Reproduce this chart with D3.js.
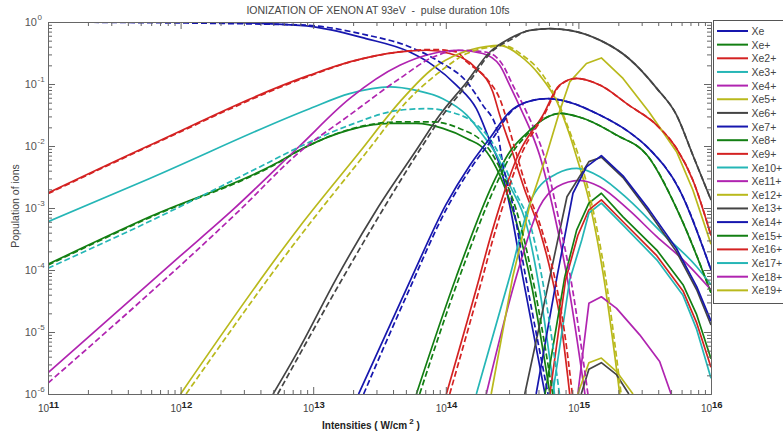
<!DOCTYPE html>
<html>
<head>
<meta charset="utf-8">
<script src="https://cdn.jsdelivr.net/npm/d3@7"></script>
<style>
  body { margin: 0; background: #fff; }
  svg { display: block; font-family: "Liberation Sans", Arial, sans-serif; }
</style>
</head>
<body>
<div id="chart"></div>
<script>
"use strict";

// axis decades
const intensityDecades = [1e11, 1e12, 1e13, 1e14, 1e15, 1e16];
const populationDecades = [1e-6, 1e-5, 1e-4, 1e-3, 1e-2, 1e-1, 1];

const ionLabels = ["Xe", "Xe+", "Xe2+", "Xe3+", "Xe4+", "Xe5+", "Xe6+", "Xe7+", "Xe8+", "Xe9+",
  "Xe10+", "Xe11+", "Xe12+", "Xe13+", "Xe14+", "Xe15+", "Xe16+", "Xe17+", "Xe18+", "Xe19+"];

// [intensity W/cm2, population], solid curves
const xe0 = [[1e11,1.0],[1.4e12,0.99],[7.9e12,0.885],[2.5e13,0.54],[5.3e13,0.33],[8e13,0.20],[1.2e14,0.096],[1.7e14,0.040],[2.14e14,0.0124],[2.55e14,4.9e-3],[3.03e14,1.12e-3],[3.8e14,7.8e-5],[5.6e14,1e-6]];
const xe1 = [[1e11,1.24e-4],[5.85e11,7.2e-4],[5.3e12,5.3e-3],[7.9e12,8.6e-3],[1.88e13,0.0182],[3.77e13,0.0231],[6e13,0.0231],[9.5e13,0.0192],[1.44e14,0.0132],[2.03e14,0.0081],[2.55e14,0.0034],[3.2e14,9.3e-4],[4.5e14,4.8e-5],[6.1e14,1e-6]];
const xe2 = [[1e11,1.75e-3],[5.85e11,0.0103],[9.4e12,0.139],[1.88e13,0.227],[4.5e13,0.33],[7.2e13,0.35],[1.07e14,0.31],[1.7e14,0.178],[2.26e14,0.075],[2.55e14,0.0315],[3.14e14,8.6e-3],[3.94e14,1.95e-3],[5.1e14,4.4e-4],[6.3e14,7.8e-5],[7.5e14,1.1e-5],[8.6e14,1e-6]];
const xe3 = [[1e11,6.0e-4],[5.85e11,3.0e-3],[9.4e12,0.040],[1.88e13,0.070],[3.77e13,0.090],[6e13,0.079],[9.5e13,0.058],[1.44e14,0.0315],[1.9e14,0.015],[2.42e14,7.1e-3],[3.03e14,2.35e-3],[4.07e14,5.3e-4],[5.1e14,4.8e-5],[6.6e14,1e-6]];
const xe4 = [[1e11,2.2e-6],[1e12,1.7e-4],[2.47e12,9.3e-4],[7.9e12,0.0100],[1.88e13,0.058],[4.5e13,0.20],[8e13,0.31],[1.21e14,0.35],[1.9e14,0.31],[2.55e14,0.20],[3.03e14,0.096],[3.78e14,0.035],[4.5e14,0.015],[5.1e14,7.1e-3],[6.6e14,7.7e-4],[8.2e14,7.8e-5],[1.12e15,1e-6]];
const xe5 = [[1e12,1e-6],[7.9e12,5.0e-4],[2.24e13,8e-3],[4.5e13,0.0515],[8e13,0.178],[1.27e14,0.31],[2.0e14,0.40],[2.55e14,0.42],[3.6e14,0.29],[5.1e14,0.139],[6.9e14,0.0515],[8.6e14,0.015],[9.6e14,7.1e-3],[1.2e15,1.35e-3],[1.55e15,7.8e-5],[2.05e15,1e-6]];
const xe6 = [[4.98e12,1e-6],[7.9e12,5.5e-6],[1.5e13,7.4e-5],[3.0e13,9.3e-4],[6.0e13,8.6e-3],[9e13,0.0315],[1.44e14,0.108],[2.14e14,0.325],[3.03e14,0.54],[4.3e14,0.735],[6.1e14,0.78],[8.6e14,0.735],[1.45e15,0.51],[2.4e15,0.258],[3.9e15,0.085],[5.5e15,0.0315],[7.3e15,7.1e-3],[1e16,1.35e-3]];
const xe7 = [[2.2e13,1e-6],[5.5e13,7.4e-5],[1e14,1.12e-3],[1.52e14,4.9e-3],[2.14e14,0.0132],[3.03e14,0.0356],[4.3e14,0.053],[5.9e14,0.058],[8.6e14,0.0506],[1.45e15,0.0315],[2.4e15,0.0169],[3.4e15,9.1e-3],[5.8e15,1.95e-3],[1e16,1e-4]];
const xe8 = [[6.0e13,1e-6],[1.2e14,7.8e-5],[2.27e14,2.5e-3],[3.03e14,8.0e-3],[3.94e14,0.015],[5.1e14,0.0245],[7.3e14,0.0335],[1.08e15,0.028],[1.94e15,0.015],[3.3e15,7.1e-3],[5.8e15,7.7e-4],[1e16,4.3e-5]];
const xe9 = [[1.01e14,1e-6],[1.8e14,7.8e-5],[2.14e14,3.05e-4],[3.6e14,8.0e-3],[5.4e14,0.0315],[7.2e14,0.096],[9.7e14,0.123],[1.45e15,0.096],[2.4e15,0.0456],[3.9e15,0.0217],[5.5e15,9.1e-3],[7.3e15,2.8e-3],[1e16,3.6e-4]];
const xe10 = [[1.7e14,1e-6],[3.03e14,7.7e-5],[4.5e14,1.5e-3],[6.9e14,3.6e-3],[9.7e14,4.35e-3],[1.45e15,3.2e-3],[2.4e15,1.35e-3],[4.3e15,3.9e-4],[7.8e15,1.13e-4],[1e16,5.8e-5]];
const xe11 = [[2.02e14,1e-6],[3.4e14,7.8e-5],[5.1e14,1.05e-3],[6.9e14,2.2e-3],[1.02e15,2.8e-3],[1.45e15,2.2e-3],[2.4e15,9.3e-4],[3.9e15,3.45e-4],[6.15e15,1.46e-4],[1e16,4.8e-5]];
const xe12 = [[2.2e14,1e-6],[3.2e14,7.8e-5],[4.3e14,1.12e-3],[5.74e14,7.1e-3],[7.2e14,0.0356],[8.6e14,0.108],[1.15e15,0.214],[1.49e15,0.263],[2.17e15,0.123],[3.4e15,0.0356],[5.5e15,8.1e-3],[7.3e15,1.95e-3],[1e16,2.6e-4]];
const xe13 = [[3.94e14,1e-6],[6.1e14,7.8e-5],[8.2e14,1.52e-3],[1.2e15,5.6e-3],[1.49e15,6.6e-3],[2.17e15,3.1e-3],[3.4e15,8.6e-4],[5.5e15,1.96e-4],[7.8e15,4.8e-5],[1e16,1.3e-5]];
const xe14 = [[4.8e14,1e-6],[6.9e14,7.8e-5],[9.1e14,1.73e-3],[1.15e15,4.6e-3],[1.49e15,7.0e-3],[2.17e15,3.3e-3],[3.4e15,9.5e-4],[5.5e15,2.2e-4],[7.8e15,5.4e-5],[1e16,1.5e-5]];
const xe15 = [[5.6e14,1e-6],[7.9e14,7.8e-5],[9.7e14,4.4e-4],[1.2e15,1.2e-3],[1.49e15,1.73e-3],[2.17e15,7.2e-4],[3.9e15,2.1e-4],[6.15e15,5.8e-5],[7.8e15,1.9e-5],[1e16,3.7e-6]];
const xe16 = [[6.1e14,1e-6],[8.0e14,6.9e-5],[9.9e14,3.6e-4],[1.2e15,9.3e-4],[1.49e15,1.35e-3],[2.17e15,6.0e-4],[3.9e15,1.7e-4],[6.15e15,4.6e-5],[7.8e15,1.4e-5],[1e16,2.7e-6]];
const xe17 = [[6.4e14,1e-6],[8.6e14,6.9e-5],[1.06e15,3.05e-4],[1.2e15,8.3e-4],[1.49e15,1.2e-3],[2.17e15,5.3e-4],[3.9e15,1.46e-4],[6.15e15,3.9e-5],[7.8e15,1.1e-5],[1e16,1.8e-6]];
const xe18 = [[9.9e14,1e-6],[1.2e15,2.9e-5],[1.49e15,3.7e-5],[1.94e15,2.4e-5],[2.9e15,9.0e-6],[4.1e15,3.35e-6],[5.0e15,1e-6]];
const xe19 = [[9.9e14,1e-6],[1.2e15,3.2e-6],[1.49e15,3.8e-6],[1.94e15,2.3e-6],[2.58e15,1e-6]];
const xe20 = [[1.05e15,1e-6],[1.2e15,2.5e-6],[1.49e15,3.2e-6],[1.94e15,2.05e-6],[2.4e15,1e-6]];

// dashed curves (second calculation)
const xe0d = [[1e11,1.0],[7.9e12,0.90],[2.5e13,0.62],[5.3e13,0.40],[9e13,0.227],[1.44e14,0.108],[1.9e14,0.0456],[2.42e14,0.019],[2.7e14,5.0e-3],[3.2e14,1.12e-3],[4.0e14,7.8e-5],[5.9e14,1e-6]];
const xe1d = [[1e11,1.2e-4],[5.85e11,7.0e-4],[5.3e12,5.2e-3],[7.9e12,8.5e-3],[1.88e13,0.0185],[4.5e13,0.0245],[8e13,0.0245],[1.27e14,0.0192],[1.9e14,0.0116],[2.2e14,0.0079],[2.7e14,0.0034],[3.4e14,9.3e-4],[4.7e14,4.8e-5],[6.4e14,1e-6]];
const xe2d = [[1e11,1.7e-3],[5.85e11,0.010],[9.4e12,0.135],[1.88e13,0.225],[4.5e13,0.33],[8e13,0.36],[1.2e14,0.33],[1.44e14,0.227],[2.03e14,0.123],[2.55e14,0.058],[3.3e14,9.5e-3],[4.1e14,2.0e-3],[5.3e14,4.4e-4],[6.6e14,7.8e-5],[7.8e14,1.1e-5],[9.0e14,1e-6]];
const xe3d = [[1e11,1.07e-4],[5.85e11,6.1e-4],[3.95e12,4.6e-3],[7.9e12,9.7e-3],[1.88e13,0.0217],[4.5e13,0.0379],[7.2e13,0.040],[1.07e14,0.0356],[1.6e14,0.0245],[2.14e14,0.0132],[2.55e14,7.1e-3],[3.3e14,1.95e-3],[4.45e14,4.4e-4],[5.6e14,4.0e-5],[7.2e14,1e-6]];
const xe4d = [[1e11,1.5e-6],[2.8e12,9.3e-4],[7.9e12,8.0e-3],[1.88e13,0.0315],[4.5e13,0.123],[8e13,0.27],[1.27e14,0.35],[2.03e14,0.325],[2.7e14,0.20],[3.2e14,0.096],[4.07e14,0.035],[4.85e14,0.015],[5.5e14,7.1e-3],[7.0e14,7.7e-4],[8.7e14,7.8e-5],[1.18e15,1e-6]];
const xe5d = [[1.1e12,1e-6],[7.9e12,3.45e-4],[2.6e13,8.6e-3],[5.05e13,0.0515],[9e13,0.157],[1.44e14,0.31],[2.26e14,0.40],[2.7e14,0.42],[3.8e14,0.29],[5.4e14,0.139],[7.0e14,0.0515],[8.8e14,0.015],[1e15,7.1e-3],[1.24e15,1.35e-3],[1.6e15,7.8e-5],[2.1e15,1e-6]];
const xe6d = [[5.4e12,1e-6],[1.67e13,7.4e-5],[3.34e13,9.3e-4],[6.35e13,8.6e-3],[9.5e13,0.0315],[1.5e14,0.108],[2.2e14,0.325],[3.2e14,0.54],[4.3e14,0.735],[6.1e14,0.78],[8.6e14,0.735],[1.45e15,0.51],[2.4e15,0.258],[3.9e15,0.085],[5.5e15,0.0315],[7.3e15,7.1e-3],[1e16,1.35e-3]];
const xe7d = [[2.4e13,1e-6],[4.9e13,3.3e-5],[1.05e14,1.12e-3],[1.6e14,4.9e-3],[2.26e14,0.0132],[3.1e14,0.0356],[4.3e14,0.053],[5.9e14,0.058],[8.6e14,0.0506],[1.45e15,0.0315],[2.4e15,0.0169],[3.4e15,9.1e-3],[5.8e15,1.95e-3],[1e16,1e-4]];
const xe8d = [[6.35e13,1e-6],[1.27e14,7.8e-5],[2.42e14,2.5e-3],[3.2e14,8.0e-3],[4.07e14,0.015],[5.1e14,0.0245],[7.3e14,0.0335],[1.08e15,0.028],[1.94e15,0.015],[3.3e15,7.1e-3],[5.8e15,7.7e-4],[1e16,4.3e-5]];
const xe9d = [[1.07e14,1e-6],[1.9e14,7.8e-5],[2.26e14,3.05e-4],[3.78e14,8.0e-3],[5.5e14,0.0315],[7.3e14,0.096],[9.7e14,0.123],[1.45e15,0.096],[2.4e15,0.0456],[3.9e15,0.0217],[5.5e15,9.1e-3],[7.3e15,2.8e-3],[1e16,3.6e-4]];

const solidSeries = [xe0, xe1, xe2, xe3, xe4, xe5, xe6, xe7, xe8, xe9, xe10,
  xe11, xe12, xe13, xe14, xe15, xe16, xe17, xe18, xe19, xe20];
const dashedSeries = [xe0d, xe1d, xe2d, xe3d, xe4d, xe5d, xe6d, xe7d, xe8d, xe9d];

// matlab-ish colour cycle
const palette = ["#1717ae", "#137f13", "#d42222", "#25b6b6", "#b024b0", "#b9b91c", "#444444"];

const W = 783, H = 438;
const margin = {top: 22, right: 72, bottom: 44, left: 48};
const w = W - margin.left - margin.right;
const h = H - margin.top - margin.bottom;

const svg = d3.select("#chart").append("svg")
  .attr("width", W)
  .attr("height", H);

svg.append("rect").attr("width", W).attr("height", H).attr("fill", "#fff");

const g = svg.append("g").attr("transform", `translate(${margin.left},${margin.top})`);

const x = d3.scaleLog().domain([1e11, 1e16]).range([0, w]);
const y = d3.scaleLog().domain([1e-6, 1]).range([h, 0]);

const xMinor = d3.range(11, 16).flatMap(e => d3.range(2, 10).map(k => k * Math.pow(10, e)));
const yMinor = d3.range(-6, 0).flatMap(e => d3.range(2, 10).map(k => k * Math.pow(10, e)));

g.append("clipPath").attr("id", "plot-clip")
  .append("rect").attr("width", w).attr("height", h);

// curves; the high charge states were computed on a coarse grid, so keep them straight-segmented
const smooth = d3.line().x(d => x(d[0])).y(d => y(d[1])).curve(d3.curveMonotoneX);
const coarse = d3.line().x(d => x(d[0])).y(d => y(d[1]));

const curves = g.append("g").attr("clip-path", "url(#plot-clip)");

solidSeries.forEach((s, i) => {
  curves.append("path")
    .datum(s)
    .attr("d", i >= 12 ? coarse : smooth)
    .attr("fill", "none")
    .attr("stroke", palette[i % 7])
    .attr("stroke-width", 1.7)
    .attr("stroke-linejoin", "round");
});

dashedSeries.forEach((s, i) => {
  curves.append("path")
    .datum(s)
    .attr("d", smooth)
    .attr("fill", "none")
    .attr("stroke", palette[i % 7])
    .attr("stroke-width", 1.7)
    .attr("stroke-dasharray", "6,3");
});

// ticks on all four sides, pointing inwards
function frame(axis, tx, ty, values, size) {
  const a = g.append("g")
    .attr("transform", `translate(${tx},${ty})`)
    .call(axis.tickValues(values).tickSize(-size).tickSizeOuter(0).tickFormat(""));
  a.selectAll("line,path").attr("stroke", "#666");
  return a;
}
frame(d3.axisBottom(x), 0, h, intensityDecades, 7);
frame(d3.axisBottom(x), 0, h, xMinor, 4);
frame(d3.axisTop(x), 0, 0, intensityDecades, 7);
frame(d3.axisTop(x), 0, 0, xMinor, 4);
frame(d3.axisLeft(y), 0, 0, populationDecades, 7);
frame(d3.axisLeft(y), 0, 0, yMinor, 4);
frame(d3.axisRight(y), w, 0, populationDecades, 7);
frame(d3.axisRight(y), w, 0, yMinor, 4);

// tick labels 10^n
const xLab = g.append("g").selectAll("g").data(intensityDecades).join("g");
xLab.append("text")
  .attr("x", d => x(d) + 1)
  .attr("y", h + 18)
  .attr("text-anchor", "end")
  .attr("font-size", 10)
  .attr("fill", "#444")
  .text("10");
xLab.append("text")
  .attr("x", d => x(d) + 1)
  .attr("y", h + 14)
  .attr("font-size", 9.5)
  .attr("font-weight", "bold")
  .attr("fill", "#222")
  .text(d => Math.round(Math.log10(d)));

const yLab = g.append("g").selectAll("g").data(populationDecades).join("g");
yLab.append("text")
  .attr("x", -11)
  .attr("y", d => y(d) + 4)
  .attr("text-anchor", "end")
  .attr("font-size", 11)
  .attr("fill", "#555")
  .text("10");
yLab.append("text")
  .attr("x", -10.5)
  .attr("y", d => y(d) - 2)
  .attr("font-size", 8)
  .attr("fill", "#555")
  .text(d => Math.round(Math.log10(d)));

// titles
svg.append("text")
  .attr("x", 378)
  .attr("y", 14)
  .attr("text-anchor", "middle")
  .attr("font-size", 10.5)
  .attr("fill", "#444")
  .style("white-space", "pre")
  .text("IONIZATION OF XENON AT 93eV  -  pulse duration 10fs");

svg.append("text")
  .attr("transform", `translate(19,${margin.top + 184}) rotate(-90)`)
  .attr("text-anchor", "middle")
  .attr("font-size", 10.5)
  .attr("fill", "#444")
  .text("Population of ions");

const xt = svg.append("text")
  .attr("x", 371)
  .attr("y", 429)
  .attr("text-anchor", "middle")
  .attr("font-size", 10)
  .attr("font-weight", "bold")
  .attr("fill", "#222");
xt.append("tspan").text("Intensities ( W/cm");
xt.append("tspan").attr("font-size", 8).attr("dy", -5).text(" 2");
xt.append("tspan").attr("dy", 5).text(" )");

// legend, running off the right edge of the page like the original
const lg = svg.append("g").attr("transform", `translate(${margin.left + w + 2},20)`);
lg.append("rect")
  .attr("x", 0.5).attr("y", 0.5)
  .attr("width", 90).attr("height", 283)
  .attr("fill", "#fff")
  .attr("stroke", "#555");

const rows = lg.selectAll("g.row").data(ionLabels).join("g")
  .attr("class", "row")
  .attr("transform", (d, i) => `translate(0,${11 + i * 13.65})`);
rows.append("line")
  .attr("x1", 4).attr("x2", 35)
  .attr("stroke", (d, i) => palette[i % 7])
  .attr("stroke-width", 2);
rows.append("text")
  .attr("x", 38.5)
  .attr("y", 4)
  .attr("font-size", 10.5)
  .attr("fill", "#444")
  .text(d => d);
</script>
</body>
</html>
